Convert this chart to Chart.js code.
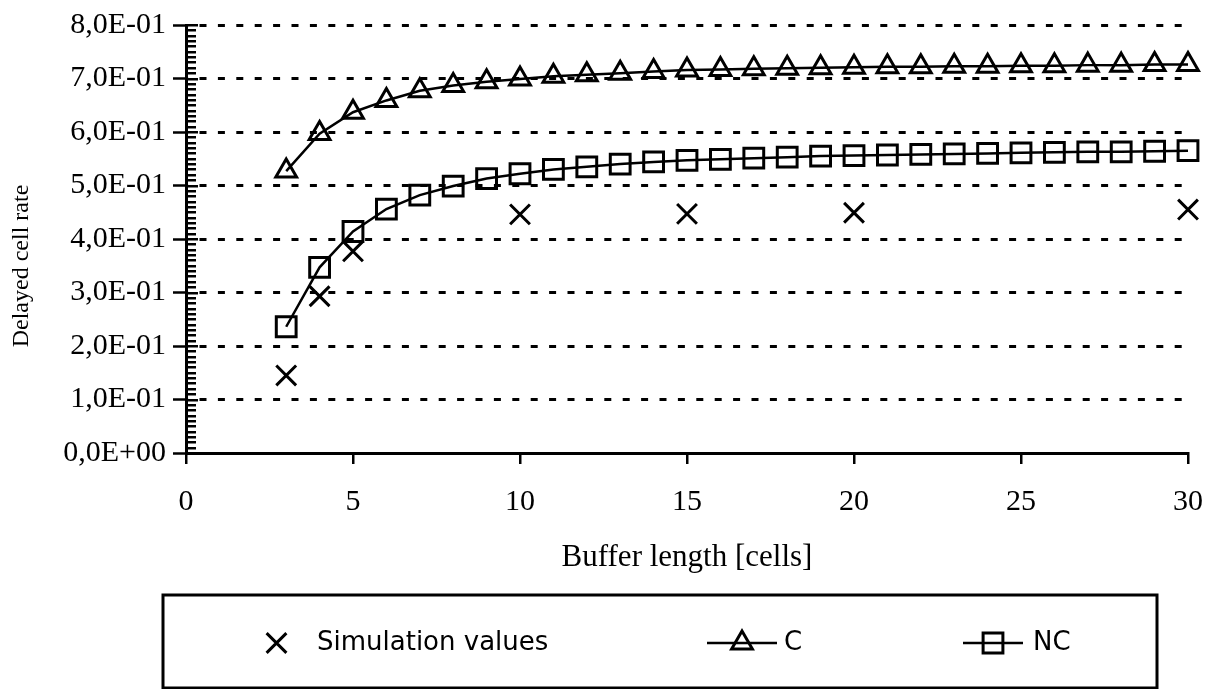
<!DOCTYPE html>
<html>
<head>
<meta charset="utf-8">
<script src="https://cdn.jsdelivr.net/npm/chart.js@4/dist/chart.umd.min.js"></script>
<style>
  html, body { margin: 0; padding: 0; background: #fff; }
  #wrap { width: 1223px; height: 689px; }
</style>
</head>
<body>
<div id="wrap"><canvas id="c" width="1223" height="689"></canvas></div>
<script>
// ---- data ----
const bufferLengths = [3, 4, 5, 6, 7, 8, 9, 10, 11, 12, 13, 14, 15, 16, 17, 18, 19, 20, 21, 22, 23, 24, 25, 26, 27, 28, 29, 30];
const cValues = [0.527, 0.597, 0.637, 0.659, 0.677, 0.687, 0.694, 0.699, 0.704, 0.707, 0.710, 0.713, 0.716, 0.717,
                 0.718, 0.719, 0.720, 0.721, 0.722, 0.722, 0.723, 0.723, 0.724, 0.724, 0.725, 0.725, 0.726, 0.726];
const ncValues = [0.236, 0.347, 0.414, 0.456, 0.482, 0.499, 0.513, 0.522, 0.530, 0.535, 0.540, 0.544, 0.547, 0.549,
                  0.551, 0.553, 0.555, 0.556, 0.557, 0.558, 0.559, 0.560, 0.561, 0.562, 0.563, 0.563, 0.564, 0.565];
const simLengths = [3, 4, 5, 10, 15, 20, 30];
const simValues = [0.145, 0.293, 0.377, 0.446, 0.447, 0.449, 0.455];
const yTickLabels = ['0,0E+00', '1,0E-01', '2,0E-01', '3,0E-01', '4,0E-01', '5,0E-01', '6,0E-01', '7,0E-01', '8,0E-01'];
const xTickLabels = ['0', '5', '10', '15', '20', '25', '30'];
const seriesNames = ['Simulation values', 'C', 'NC'];
const xTitle = 'Buffer length [cells]';
const yTitle = 'Delayed cell rate';

function pts(xs, ys) { return xs.map((x, i) => ({ x: x, y: ys[i] })); }

// minor ticks + inner part of major ticks on the y axis
const yTickPlugin = {
  id: 'yTicks',
  beforeDatasetsDraw(chart) {
    const ctx = chart.ctx, y = chart.scales.y, left = chart.chartArea.left;
    ctx.save();
    ctx.strokeStyle = '#000';
    ctx.lineWidth = 2.5;
    for (let i = 0; i <= 80; i++) {
      const v = i / 100;
      const p = Math.round(y.getPixelForValue(v)) + 0.25;
      const len = (i % 10 === 0) ? 12 : 10;
      ctx.beginPath();
      ctx.moveTo(left, p);
      ctx.lineTo(left + len, p);
      ctx.stroke();
    }
    ctx.restore();
  }
};

// rotated y title
const yTitlePlugin = {
  id: 'yTitle',
  afterDraw(chart) {
    const ctx = chart.ctx, ca = chart.chartArea;
    ctx.save();
    ctx.translate(22, (ca.top + ca.bottom) / 2 + 27);
    ctx.rotate(-Math.PI / 2);
    ctx.font = '24px "Liberation Serif"';
    ctx.fillStyle = '#000';
    ctx.textAlign = 'center';
    ctx.textBaseline = 'middle';
    ctx.fillText(yTitle, 0, 0);
    ctx.restore();
  }
};

// boxed legend with line + marker samples
const legendPlugin = {
  id: 'boxLegend',
  afterDraw(chart) {
    const ctx = chart.ctx;
    const box = { l: 163, t: 595, r: 1157, b: 688 };
    const cy = 643;
    const items = [
      { ds: 0, s0: 265, s1: 288, tx: 317 },
      { ds: 1, s0: 707, s1: 777, tx: 784 },
      { ds: 2, s0: 963, s1: 1023, tx: 1033 }
    ];
    ctx.save();
    ctx.strokeStyle = '#000';
    ctx.lineWidth = 3;
    ctx.strokeRect(box.l, box.t, box.r - box.l, box.b - box.t);
    items.forEach(it => {
      const d = chart.data.datasets[it.ds];
      const cx = (it.s0 + it.s1) / 2;
      if (d.showLine) {
        ctx.lineWidth = d.borderWidth;
        ctx.strokeStyle = '#000';
        ctx.beginPath();
        ctx.moveTo(it.s0, cy);
        ctx.lineTo(it.s1, cy);
        ctx.stroke();
      }
      ctx.fillStyle = 'rgba(0,0,0,0)';
      ctx.strokeStyle = '#000';
      ctx.lineWidth = d.pointBorderWidth;
      Chart.helpers.drawPoint(ctx, { pointStyle: d.pointStyle, radius: d.pointRadius, rotation: 0, borderWidth: d.pointBorderWidth }, cx, cy);
      ctx.fillStyle = '#000';
      ctx.font = '26px "DejaVu Sans"';
      ctx.textAlign = 'left';
      ctx.textBaseline = 'middle';
      ctx.fillText(d.label, it.tx, cy);
    });
    ctx.restore();
  }
};

const serif = 'Liberation Serif';

new Chart(document.getElementById('c'), {
  type: 'scatter',
  data: {
    datasets: [
      {
        label: seriesNames[0],
        data: pts(simLengths, simValues),
        showLine: false,
        pointStyle: 'crossRot',
        pointRadius: 14,
        pointBorderWidth: 3,
        borderWidth: 3,
        borderColor: '#000',
        pointBorderColor: '#000',
        pointBackgroundColor: 'rgba(0,0,0,0)',
        clip: false
      },
      {
        label: seriesNames[1],
        data: pts(bufferLengths, cValues),
        showLine: true,
        tension: 0,
        borderColor: '#000',
        borderWidth: 2.5,
        pointStyle: 'triangle',
        pointRadius: 12,
        pointBorderWidth: 3,
        pointBorderColor: '#000',
        pointBackgroundColor: 'rgba(0,0,0,0)',
        clip: false
      },
      {
        label: seriesNames[2],
        data: pts(bufferLengths, ncValues),
        showLine: true,
        tension: 0,
        borderColor: '#000',
        borderWidth: 2.5,
        pointStyle: 'rect',
        pointRadius: 14,
        pointBorderWidth: 3,
        pointBorderColor: '#000',
        pointBackgroundColor: 'rgba(0,0,0,0)',
        clip: false
      }
    ]
  },
  options: {
    responsive: false,
    animation: false,
    layout: { padding: { left: 0, top: 22, right: 27, bottom: 101 } },
    plugins: { legend: { display: false }, tooltip: { enabled: false } },
    scales: {
      x: {
        type: 'linear',
        min: 0, max: 30,
        afterFit: s => { s.height = 135; },
        ticks: {
          stepSize: 5, padding: 20, maxRotation: 0, autoSkip: false,
          color: '#000', font: { family: serif, size: 30 },
          callback: (v, i) => xTickLabels[i]
        },
        grid: { drawOnChartArea: false, drawTicks: true, tickLength: 11, color: '#000', lineWidth: 2.5 },
        border: { display: true, color: '#000', width: 3 },
        title: { display: true, text: xTitle, color: '#000', font: { family: serif, size: 31 }, padding: { top: 0, bottom: 12 } }
      },
      y: {
        type: 'linear',
        min: 0, max: 0.8,
        afterFit: s => { s.width = 186; },
        ticks: {
          stepSize: 0.1, padding: 7,
          color: '#000', font: { family: serif, size: 30 },
          callback: (v, i) => yTickLabels[i]
        },
        grid: { color: '#000', lineWidth: 3, tickWidth: 2.5, tickLength: 13, drawTicks: true },
        border: { display: true, color: '#000', width: 3, dash: [7, 11.4], dashOffset: 6.9 },
        title: { display: false, text: yTitle }
      }
    }
  },
  plugins: [yTickPlugin, yTitlePlugin, legendPlugin]
});
</script>
</body>
</html>
